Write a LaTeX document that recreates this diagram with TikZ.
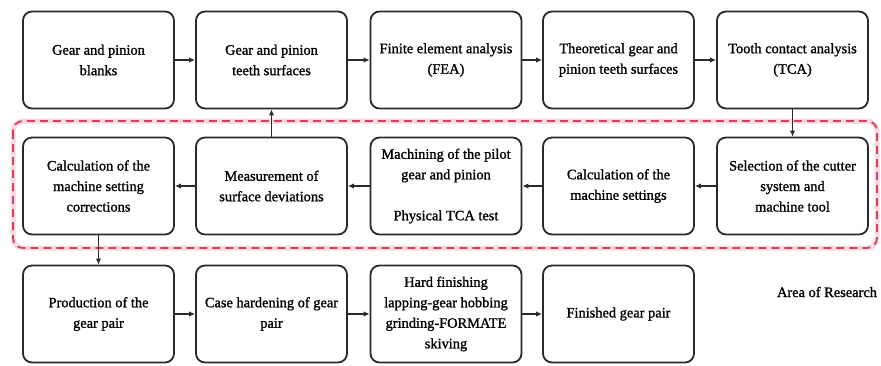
\documentclass[tikz,border=0pt]{standalone}
\usepackage{fontspec}
\newfontfamily\bxfont{Liberation Serif}[FakeBold=1.2]
\usetikzlibrary{arrows.meta}
\definecolor{dashred}{HTML}{D8405E}
\definecolor{boxline}{HTML}{2A2A2A}
\begin{document}
\begin{tikzpicture}[x=1pt,y=-1pt,
  box/.style={draw=boxline, line width=1.8pt, rounded corners=9pt, minimum width=151pt, minimum height=97pt, align=center, font=\bxfont\fontsize{14.4}{20.5}\selectfont, inner sep=2pt, fill=white},
  arr/.style={draw=boxline, line width=1.5pt, -{Latex[length=6pt,width=5.5pt]}},
  lbl/.style={font=\bxfont\fontsize{14.4}{20.5}\selectfont}]
\useasboundingbox (0,0) rectangle (881,365);
\fill[white] (0,0) rectangle (881,365);
% area of research
\draw[dashred!20, line width=5pt, rounded corners=10pt] (13,121) rectangle (877,248);
\draw[dashred, line width=1.8pt, dash pattern=on 8pt off 5pt, rounded corners=10pt] (13,121) rectangle (877,248);
% row 1
\node[box] (b1) at (98.5,60) {Gear and pinion\\blanks};
\node[box] (b2) at (271.5,60) {Gear and pinion\\teeth surfaces};
\node[box] (b3) at (446,60) {Finite element analysis\\(FEA)};
\node[box] (b4) at (618.5,60) {Theoretical gear and\\pinion teeth surfaces};
\node[box] (b5) at (792.5,60) {Tooth contact analysis\\(TCA)};
% row 2
\node[box] (c1) at (98.5,186) {Calculation of the\\machine setting\\corrections};
\node[box] (c2) at (271.5,186) {Measurement of\\surface deviations};
\node[box] (c3) at (446,186) {Machining of the pilot\\gear and pinion\\[20.5pt]Physical TCA test};
\node[box] (c4) at (618.5,186) {Calculation of the\\machine settings};
\node[box] (c5) at (792.5,186) {Selection of the cutter\\system and\\machine tool};
% row 3
\node[box] (d1) at (98.5,314) {Production of the\\gear pair};
\node[box] (d2) at (271.5,314) {Case hardening of gear\\pair};
\node[box] (d3) at (446,314) {Hard finishing\\lapping-gear hobbing\\grinding-FORMATE\\skiving};
\node[box] (d4) at (618.5,314) {Finished gear pair};
\node[lbl] (area) at (827,292) {Area of Research};
% connectors
\draw[arr] (b1) -- (b2);
\draw[arr] (b2) -- (b3);
\draw[arr] (b3) -- (b4);
\draw[arr] (b4) -- (b5);
\draw[arr] (b5) -- (c5);
\draw[arr] (c5) -- (c4);
\draw[arr] (c4) -- (c3);
\draw[arr] (c3) -- (c2);
\draw[arr] (c2) -- (c1);
\draw[arr] (c2) -- (b2);
\draw[arr] (c1) -- (d1);
\draw[arr] (d1) -- (d2);
\draw[arr] (d2) -- (d3);
\draw[arr] (d3) -- (d4);
\end{tikzpicture}
\end{document}
